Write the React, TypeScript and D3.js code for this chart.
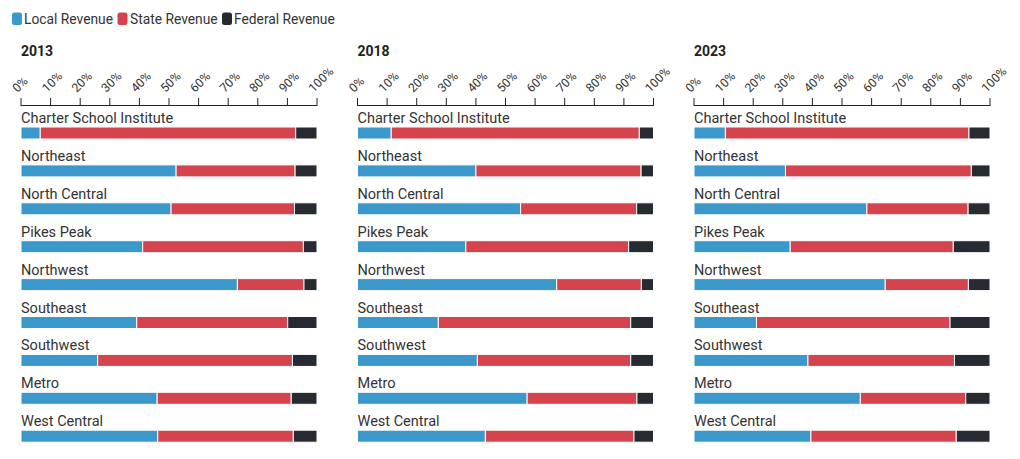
import React from "react";
import * as d3 from "d3";

const years = ["2013", "2018", "2023"];
const regions = [
  "Charter School Institute",
  "Northeast",
  "North Central",
  "Pikes Peak",
  "Northwest",
  "Southeast",
  "Southwest",
  "Metro",
  "West Central",
];
const seriesNames = ["Local Revenue", "State Revenue", "Federal Revenue"];
const seriesColors = ["#3a98cb", "#d5444d", "#262b33"];
const tickValues = [0, 10, 20, 30, 40, 50, 60, 70, 80, 90, 100];

// [local, state, federal] per region, per year
const local2013 = [6.5, 52.4, 50.7, 41.1, 73.1, 39.1, 25.9, 46.0, 46.2];
const state2013 = [86.3, 40.2, 41.7, 54.3, 22.5, 51.0, 65.8, 45.3, 45.8];
const federal2013 = [7.2, 7.4, 7.6, 4.6, 4.4, 9.9, 8.3, 8.7, 8.0];

const local2018 = [11.4, 40.0, 55.1, 36.6, 67.3, 27.3, 40.5, 57.3, 43.2];
const state2018 = [83.8, 55.8, 39.2, 55.0, 28.6, 65.0, 51.8, 37.1, 50.2];
const federal2018 = [4.8, 4.2, 5.7, 8.4, 4.1, 7.7, 7.7, 5.6, 6.6];

const local2023 = [10.6, 30.9, 58.4, 32.5, 64.6, 21.1, 38.5, 56.2, 39.5];
const state2023 = [82.3, 62.8, 34.2, 55.1, 28.1, 65.4, 49.5, 35.6, 49.1];
const federal2023 = [7.1, 6.3, 7.4, 12.4, 7.3, 13.5, 12.0, 8.2, 11.4];

const yearData = [
  [local2013, state2013, federal2013],
  [local2018, state2018, federal2018],
  [local2023, state2023, federal2023],
];

const FONT = "Roboto, 'Noto Sans', sans-serif";

export default function App() {
  const W = 1020;
  const H = 459;
  const panelLefts = [21, 357.5, 694];
  const panelWidth = 296;
  const axisY = 105;
  const firstBarTop = 127;
  const rowStep = 37.9;
  const barH = 12;

  const keys = ["local", "state", "federal"];

  const legendItems = [
    { x: 12, tx: 24 },
    { x: 117.5, tx: 130 },
    { x: 222, tx: 234 },
  ];

  return (
    <svg
      width={W}
      height={H}
      style={{ position: "absolute", left: 0, top: 0, background: "#fff" }}
      fontFamily={FONT}
    >
      {/* legend */}
      {seriesNames.map((name, i) => (
        <g key={name}>
          <rect
            x={legendItems[i].x}
            y={12.5}
            width={10}
            height={12.5}
            rx={2.5}
            fill={seriesColors[i]}
          />
          <text x={legendItems[i].tx} y={23.5} fontSize={13.8} fill="#333">
            {name}
          </text>
        </g>
      ))}

      {years.map((year, yi) => {
        const x0 = panelLefts[yi];
        const x = d3.scaleLinear().domain([0, 100]).range([x0, x0 + panelWidth]);
        const [loc, sta, fed] = yearData[yi];
        const rows = regions.map((r, i) => ({
          region: r,
          local: loc[i],
          state: sta[i],
          federal: fed[i],
        }));
        const stacked = d3.stack<any>().keys(keys)(rows);
        const y = (i: number) => firstBarTop + i * rowStep;
        return (
          <g key={year}>
            <text
              x={x0}
              y={55.5}
              fontSize={14}
              fontWeight={700}
              fill="#222"
            >
              {year}
            </text>
            {/* axis */}
            <line
              x1={x(0)}
              x2={x(100)}
              y1={axisY + 0.5}
              y2={axisY + 0.5}
              stroke="#222"
              strokeWidth={1}
            />
            {tickValues.map((t) => (
              <g key={t}>
                <line
                  x1={x(t)}
                  x2={x(t)}
                  y1={axisY - 7}
                  y2={axisY + 1}
                  stroke="#222"
                  strokeWidth={1}
                />
                <text
                  transform={`translate(${x(t) - 3.5},${axisY - 12}) rotate(-45)`}
                  fontSize={12.2}
                  fill="#333"
                >
                  {t}%
                </text>
              </g>
            ))}
            {/* rows */}
            {regions.map((r, i) => (
              <text
                key={r}
                x={x0}
                y={y(i) - 4}
                fontSize={14.5}
                fill="#333"
              >
                {r}
              </text>
            ))}
            {stacked.map((layer, si) => (
              <g key={layer.key} fill={seriesColors[si]}>
                {layer.map((d, i) => (
                  <rect
                    key={i}
                    x={x(d[0])}
                    y={y(i)}
                    width={Math.max(0, x(d[1]) - x(d[0]))}
                    height={barH}
                    stroke="#fff"
                    strokeWidth={1}
                  />
                ))}
              </g>
            ))}
          </g>
        );
      })}
    </svg>
  );
}
